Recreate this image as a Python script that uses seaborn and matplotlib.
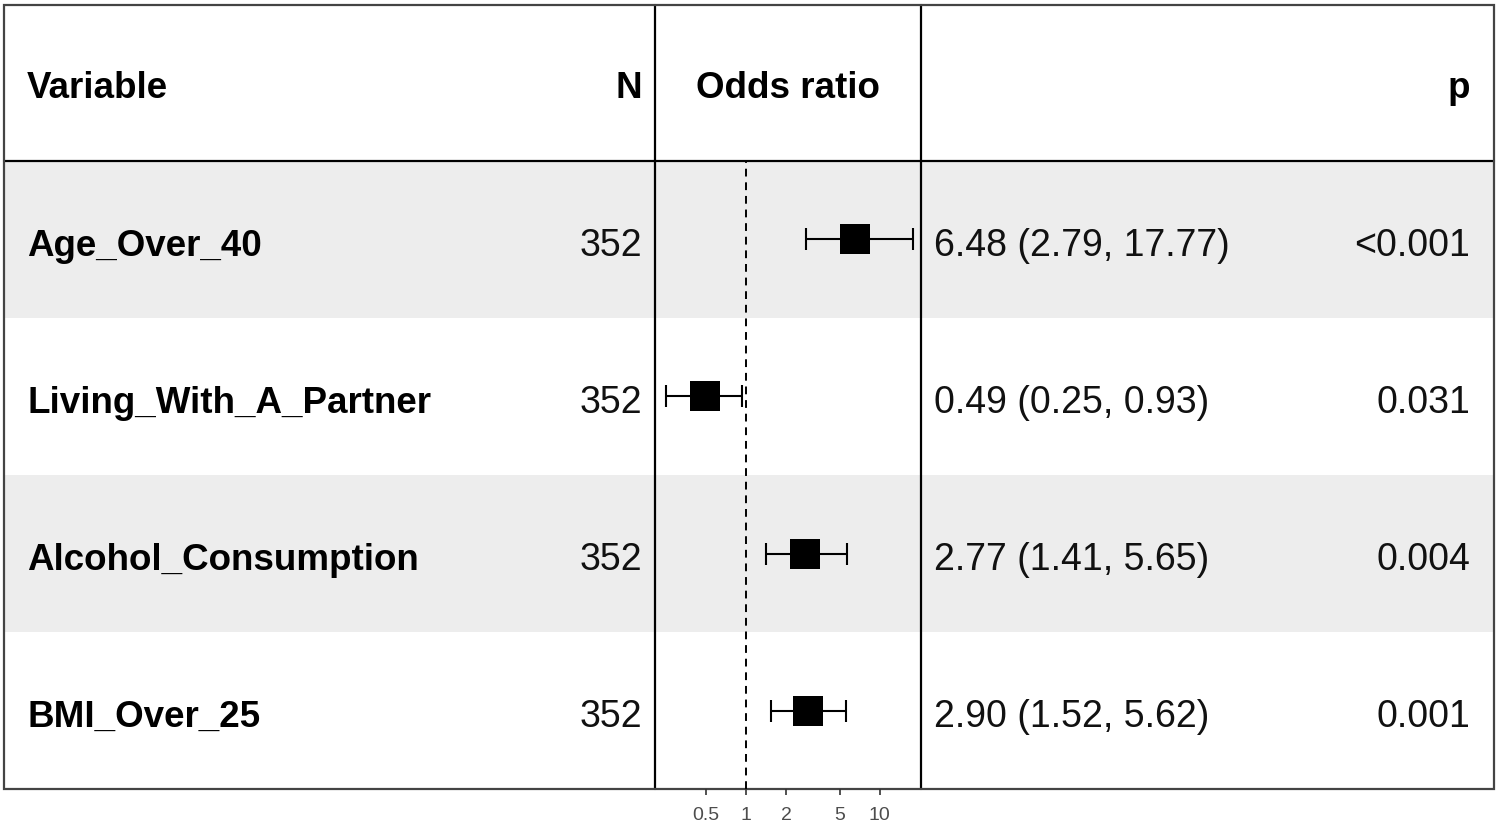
import numpy as np
import pandas as pd
import matplotlib
matplotlib.use("Agg")
import matplotlib.pyplot as plt
from matplotlib.patches import Rectangle
import seaborn as sns

# ---- data ----
variables = ["Age_Over_40", "Living_With_A_Partner", "Alcohol_Consumption", "BMI_Over_25"]
n_obs = [352, 352, 352, 352]
odds_ratio = [6.48, 0.49, 2.77, 2.90]
ci_low = [2.79, 0.25, 1.41, 1.52]
ci_high = [17.77, 0.93, 5.65, 5.62]
p_labels = ["<0.001", "0.031", "0.004", "0.001"]
tick_values = [0.5, 1, 2, 5, 10]
tick_labels = ["0.5", "1", "2", "5", "10"]
headers = ["Variable", "N", "Odds ratio", "p"]

df = pd.DataFrame({
    "variable": variables,
    "n": n_obs,
    "or": odds_ratio,
    "lo": ci_low,
    "hi": ci_high,
    "p": p_labels,
})
df["pos"] = np.arange(len(df)) + 0.5
df["est"] = [f"{o:.2f} ({l:.2f}, {h:.2f})" for o, l, h in zip(df["or"], df["lo"], df["hi"])]

sns.set_theme(style="white")
plt.rcParams["font.family"] = ["Liberation Sans", "DejaVu Sans"]
plt.rcParams["text.color"] = "black"

W, H = 1498, 836
fig = plt.figure(figsize=(W / 100, H / 100), dpi=100)

# background / table axes in pixel coordinates
bg = fig.add_axes([0, 0, 1, 1])
bg.set_xlim(0, W)
bg.set_ylim(H, 0)
bg.axis("off")

left, right = 4, 1494
top, head_bot, bottom = 5, 161, 789
row_h = (bottom - head_bot) / len(df)
fx0, fx1 = 655, 921
band = "#EDEDED"

for i in range(len(df)):
    if i % 2 == 0:
        bg.add_patch(Rectangle((left, head_bot + i * row_h), right - left, row_h,
                               facecolor=band, edgecolor="none", zorder=0))

fsb = 26.5
fs = 27
# headers
hy = (top + head_bot) / 2 + 15
bg.text(27, hy, headers[0], fontsize=fsb, fontweight="bold", ha="left", va="baseline", color="black")
bg.text(642, hy, headers[1], fontsize=fsb, fontweight="bold", ha="right", va="baseline", color="black")
bg.text((fx0 + fx1) / 2, hy, headers[2], fontsize=fsb, fontweight="bold", ha="center", va="baseline", color="black")
bg.text(1470, hy, headers[3], fontsize=fsb, fontweight="bold", ha="right", va="baseline", color="black")

for i, r in df.iterrows():
    yb = head_bot + (i + 0.5) * row_h + 16.5
    bg.text(27, yb, r["variable"], fontsize=fsb, fontweight="bold", ha="left", va="baseline", color="black")
    bg.text(642, yb, str(r["n"]), fontsize=fs, ha="right", va="baseline", color="#111111")
    bg.text(934, yb, r["est"], fontsize=fs, ha="left", va="baseline", color="#111111")
    bg.text(1470, yb, r["p"], fontsize=fs, ha="right", va="baseline", color="#111111")

# lines
bg.plot([left, right], [head_bot, head_bot], color="black", lw=1.6, zorder=3)
bg.plot([fx0, fx0], [top, bottom], color="black", lw=1.6, zorder=3)
bg.plot([fx1, fx1], [top, bottom], color="black", lw=1.6, zorder=3)
bg.add_patch(Rectangle((left, top), right - left, bottom - top, fill=False,
                       edgecolor="#444444", lw=1.6, zorder=3))

# forest panel
fa = fig.add_axes([fx0 / W, (H - bottom) / H, (fx1 - fx0) / W, (bottom - head_bot) / H])
fa.patch.set_alpha(0)
fa.set_xscale("log")
fa.set_xlim(10 ** -0.684, 10 ** 1.309)
fa.set_ylim(len(df), 0)
fa.axvline(1, color="black", lw=1.4, ls=(0, (4.0, 3.0)), zorder=1)
fa.errorbar(df["or"], df["pos"], xerr=[df["or"] - df["lo"], df["hi"] - df["or"]],
            fmt="none", ecolor="black", elinewidth=1.5, capsize=8, capthick=1.5, zorder=2)
sns.scatterplot(data=df, x="or", y="pos", marker="s", s=21.5 ** 2, color="black",
                linewidth=0, legend=False, ax=fa, zorder=3)
for s in fa.spines.values():
    s.set_visible(False)
fa.set_xlabel("")
fa.set_ylabel("")
fa.set_yticks([])
fa.set_xticks(tick_values)
fa.set_xticklabels(tick_labels)
fa.xaxis.set_minor_locator(matplotlib.ticker.NullLocator())
fa.tick_params(axis="x", which="major", bottom=True, length=4, width=1.2, color="#333333",
               labelsize=14, labelcolor="#4D4D4D", pad=9)

fig.savefig("out.png", dpi=100)
